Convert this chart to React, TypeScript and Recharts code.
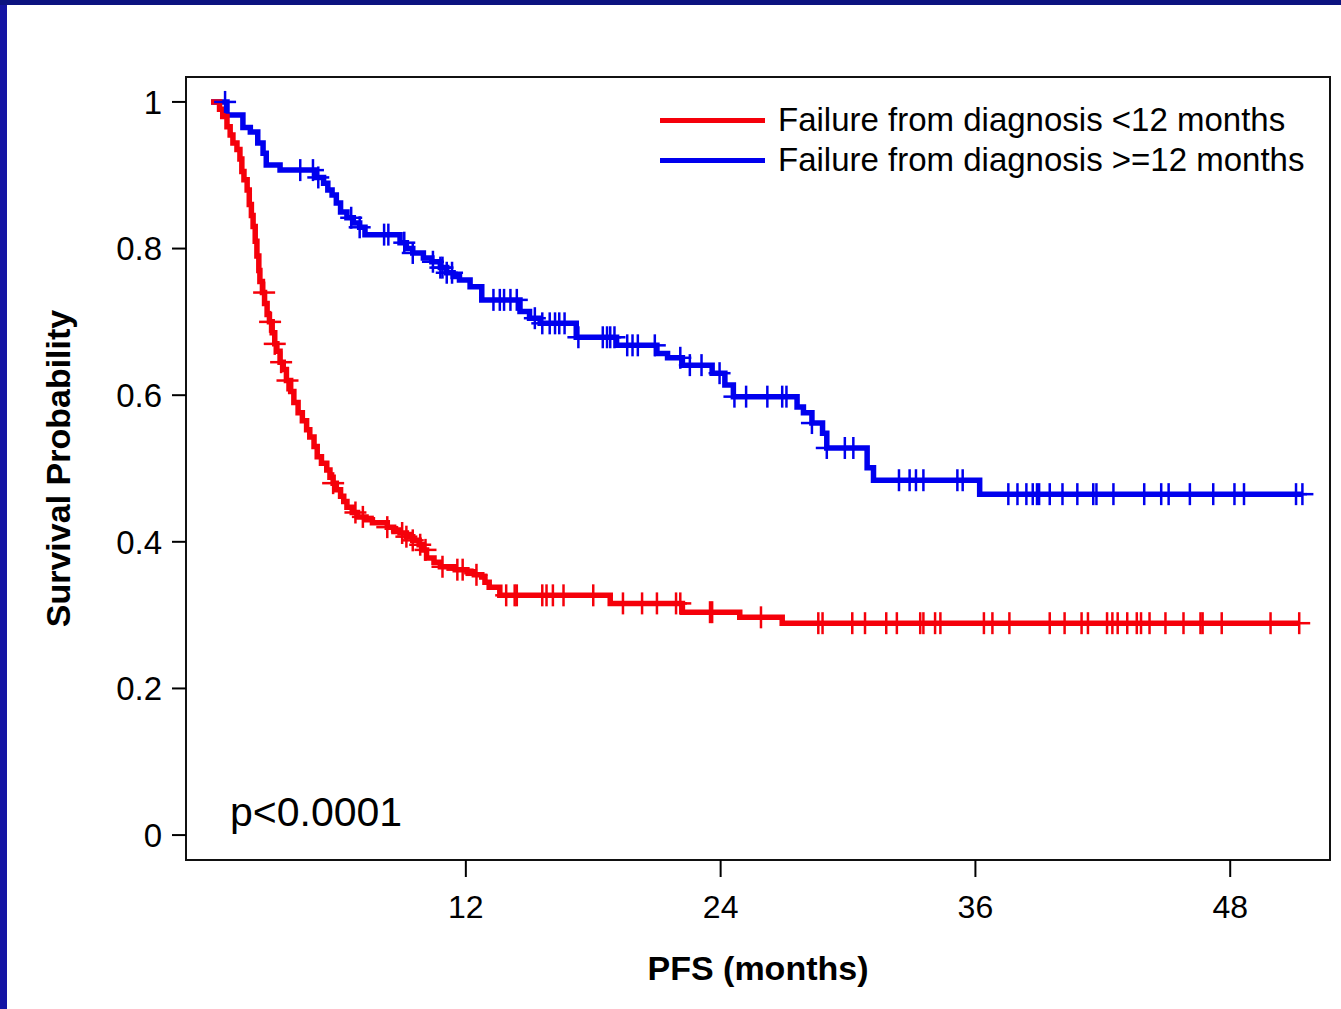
import React from "react";
import { ComposedChart, Line, Scatter, XAxis, YAxis, ReferenceArea } from "recharts";

// Kaplan-Meier steps, months vs survival probability
const earlyTimes = [0, 0.4, 0.55, 0.75, 0.9, 1.03, 1.22, 1.36, 1.45, 1.55, 1.7, 1.8, 1.9, 1.98, 2.08, 2.16, 2.25, 2.3, 2.42, 2.52, 2.64, 2.75, 2.88, 3.0, 3.1, 3.25, 3.4, 3.55, 3.75, 3.9, 4.1, 4.3, 4.5, 4.65, 4.85, 5.0, 5.2, 5.45, 5.6, 5.75, 5.9, 6.1, 6.25, 6.4, 6.65, 6.9, 7.3, 7.6, 8.3, 8.6, 8.9, 9.2, 9.5, 9.8, 10.0, 10.15, 10.5, 10.8, 11.5, 12.05, 12.4, 12.75, 12.9, 13.1, 13.6, 18.8, 22.2, 24.9, 26.9, 51.25];
const earlySurv = [1, 0.99, 0.98, 0.966, 0.955, 0.944, 0.935, 0.922, 0.905, 0.894, 0.88, 0.86, 0.845, 0.83, 0.81, 0.79, 0.77, 0.755, 0.74, 0.725, 0.71, 0.7, 0.685, 0.67, 0.66, 0.645, 0.635, 0.62, 0.605, 0.59, 0.576, 0.565, 0.553, 0.543, 0.53, 0.516, 0.507, 0.498, 0.488, 0.48, 0.471, 0.462, 0.455, 0.447, 0.44, 0.434, 0.43, 0.426, 0.42, 0.416, 0.412, 0.407, 0.402, 0.396, 0.389, 0.378, 0.372, 0.366, 0.362, 0.359, 0.355, 0.352, 0.345, 0.338, 0.327, 0.316, 0.304, 0.297, 0.289, 0.289];
const earlyCensored = [2.5, 2.78, 3.0, 3.3, 3.6, 5.75, 6.8, 7.15, 8.3, 9.0, 9.2, 9.5, 9.85, 10.1, 10.9, 11.6, 11.85, 12.5, 13.9, 14.3, 14.4, 15.6, 15.8, 16.1, 16.6, 18.0, 19.4, 20.3, 21.0, 21.9, 22.1, 23.5, 23.6, 25.9, 28.6, 28.8, 30.2, 30.8, 31.8, 32.3, 33.4, 33.55, 34.1, 34.35, 36.4, 36.8, 37.6, 39.5, 40.2, 41.0, 41.3, 42.2, 42.45, 42.7, 43.15, 43.6, 43.8, 44.2, 44.95, 45.8, 46.6, 46.7, 47.6, 49.9, 51.25];

const lateTimes = [0, 0.75, 1.5, 1.85, 2.2, 2.45, 2.6, 3.25, 4.9, 5.3, 5.5, 5.7, 5.9, 6.1, 6.4, 6.7, 7.0, 7.25, 8.9, 9.2, 9.5, 10.0, 10.4, 10.8, 11.1, 11.4, 11.7, 12.2, 12.75, 14.55, 15.0, 15.5, 17.2, 19.1, 21.0, 21.5, 22.2, 23.6, 24.2, 24.6, 27.6, 27.9, 28.3, 28.8, 29.0, 30.9, 31.2, 36.2, 51.4];
const lateSurv = [1, 0.982, 0.965, 0.959, 0.944, 0.93, 0.914, 0.907, 0.897, 0.889, 0.88, 0.873, 0.862, 0.85, 0.842, 0.835, 0.829, 0.819, 0.808, 0.8, 0.794, 0.787, 0.782, 0.774, 0.767, 0.762, 0.757, 0.748, 0.73, 0.714, 0.705, 0.698, 0.679, 0.668, 0.657, 0.651, 0.641, 0.63, 0.614, 0.598, 0.584, 0.576, 0.562, 0.548, 0.528, 0.501, 0.484, 0.465, 0.465];
const lateCensored = [0.66, 4.2, 4.8, 5.05, 6.6, 7.0, 8.15, 8.35, 9.1, 9.5, 10.45, 10.8, 10.9, 11.1, 11.35, 13.3, 13.6, 13.8, 14.1, 14.4, 15.25, 15.6, 15.95, 16.2, 16.4, 16.65, 17.3, 18.45, 18.65, 18.8, 19.0, 19.6, 19.85, 20.1, 20.9, 22.1, 22.55, 23.1, 23.95, 24.65, 25.2, 26.2, 26.9, 27.1, 28.3, 29.0, 29.85, 30.25, 32.4, 32.9, 33.2, 33.55, 35.15, 35.4, 37.55, 37.98, 38.4, 38.7, 38.9, 39.0, 39.5, 40.1, 40.8, 41.55, 41.7, 42.5, 43.95, 44.75, 45.1, 46.1, 47.2, 48.2, 48.65, 51.1, 51.4];

const seriesNames = ["Failure from diagnosis <12 months", "Failure from diagnosis >=12 months"];
const xTicks = [12, 24, 36, 48];
const yTicks = [0, 0.2, 0.4, 0.6, 0.8, 1];
const pValue = "p<0.0001";

const RED = "#f5000a";
const BLUE = "#0000ee";
const FONT = "'Liberation Sans', Arial, sans-serif";

const xMin = -1.18;
const xMax = 52.7;
const yMin = -0.034;
const yMax = 1.034;

const toSteps = (times: number[], surv: number[]) => times.map((t, i) => ({ t, s: surv[i] }));

// censored subjects sit on the curve at their time
const survAt = (times: number[], surv: number[], t: number) => {
  let s = surv[0];
  for (let i = 0; i < times.length; i++) {
    if (times[i] <= t) s = surv[i];
  }
  return s;
};
const toMarks = (cens: number[], times: number[], surv: number[]) =>
  cens.map((t) => ({ t, s: survAt(times, surv, t) }));

const earlyData = toSteps(earlyTimes, earlySurv);
const lateData = toSteps(lateTimes, lateSurv);
const earlyMarks = toMarks(earlyCensored, earlyTimes, earlySurv);
const lateMarks = toMarks(lateCensored, lateTimes, lateSurv);

const plus = (color: string) => (props: any) => {
  const { cx, cy } = props;
  return (
    <g stroke={color} strokeWidth={2.5}>
      <line x1={cx - 11} y1={cy} x2={cx + 11} y2={cy} />
      <line x1={cx} y1={cy - 11} x2={cx} y2={cy + 11} />
    </g>
  );
};

const fmtY = (v: number) => (v === 0 || v === 1 ? String(v) : v.toFixed(1));

const legendText: React.CSSProperties = {
  position: "absolute",
  left: 778,
  whiteSpace: "nowrap",
  fontSize: 33,
  lineHeight: "33px",
  color: "#000",
};

const App = () => {
  return (
    <div style={{ position: "absolute", left: 0, top: 0, width: 1341, height: 1009, background: "#fff", overflow: "hidden", fontFamily: FONT }}>
      <div style={{ position: "absolute", left: 0, top: 0, width: 7, height: 1009, background: "#1414a4" }} />
      <div style={{ position: "absolute", left: 0, top: 0, width: 1341, height: 5, background: "#0c1380" }} />
      <div style={{ position: "absolute", left: 7, top: 5 }}>
        <ComposedChart width={1334} height={1004} margin={{ top: 72, right: 11, bottom: 0, left: 0 }}>
          <XAxis
            type="number"
            dataKey="t"
            domain={[xMin, xMax]}
            allowDataOverflow
            ticks={xTicks}
            interval={0}
            axisLine={false}
            tickLine={{ stroke: "#000", strokeWidth: 2 }}
            tickSize={17}
            tickMargin={18}
            height={149}
            tick={{ fill: "#000", fontSize: 32, fontFamily: FONT }}
            label={{
              content: ({ viewBox }: any) => (
                <text x={viewBox.x + viewBox.width / 2} y={viewBox.y + 120} textAnchor="middle" fontSize={34} fontWeight="bold" fontFamily={FONT} fill="#000">
                  PFS (months)
                </text>
              ),
            }}
          />
          <YAxis
            type="number"
            dataKey="s"
            domain={[yMin, yMax]}
            allowDataOverflow
            ticks={yTicks}
            interval={0}
            tickFormatter={fmtY}
            axisLine={false}
            tickLine={{ stroke: "#000", strokeWidth: 2 }}
            tickSize={14}
            tickMargin={10}
            width={179}
            tick={{ fill: "#000", fontSize: 33, fontFamily: FONT }}
            label={{
              content: ({ viewBox }: any) => {
                const x = 63;
                const y = viewBox.y + viewBox.height / 2;
                return (
                  <text x={x} y={y} transform={`rotate(-90, ${x}, ${y})`} textAnchor="middle" fontSize={34} fontWeight="bold" fontFamily={FONT} fill="#000">
                    Survival Probability
                  </text>
                );
              },
            }}
          />
          <ReferenceArea x1={xMin} x2={xMax} y1={yMin} y2={yMax} fill="none" stroke="#111" strokeWidth={2} fillOpacity={0} />
          <Line data={lateData} dataKey="s" type="stepAfter" stroke={BLUE} strokeWidth={5.5} dot={false} activeDot={false} isAnimationActive={false} />
          <Line data={earlyData} dataKey="s" type="stepAfter" stroke={RED} strokeWidth={5.5} dot={false} activeDot={false} isAnimationActive={false} />
          <Scatter data={lateMarks} dataKey="s" shape={plus(BLUE)} isAnimationActive={false} />
          <Scatter data={earlyMarks} dataKey="s" shape={plus(RED)} isAnimationActive={false} />
        </ComposedChart>
      </div>

      {/* legend */}
      <div style={{ position: "absolute", left: 660, top: 118, width: 105, height: 5, background: RED }} />
      <div style={{ position: "absolute", left: 660, top: 158, width: 105, height: 5, background: BLUE }} />
      <div style={{ ...legendText, top: 103 }}>{seriesNames[0]}</div>
      <div style={{ ...legendText, top: 143 }}>{seriesNames[1]}</div>

      <div style={{ position: "absolute", left: 230, top: 792, fontSize: 41, lineHeight: "41px", color: "#000", whiteSpace: "nowrap" }}>
        {pValue}
      </div>
    </div>
  );
};

export default App;
